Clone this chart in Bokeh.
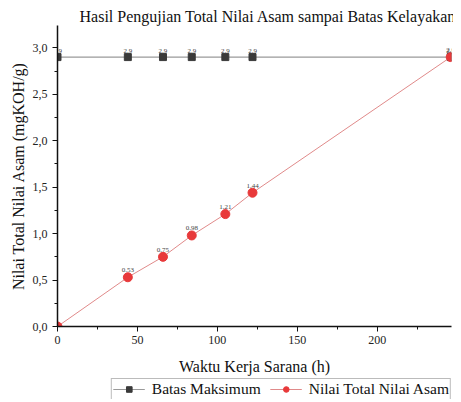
from bokeh.plotting import figure
from bokeh.layouts import column
from bokeh.models import (Range1d, Legend, LegendItem, CustomJSTickFormatter,
                          ColumnDataSource, SingleIntervalTicker)
from bokeh.embed import file_html
from bokeh.resources import INLINE
from bokeh.core.properties import value

# ---- data ----
hours_max = [0, 44, 66, 84, 105, 122, 246]
batas_max = [2.9, 2.9, 2.9, 2.9, 2.9, 2.9, 2.9]
labels_max = ["2.9", "2.9", "2.9", "2.9", "2.9", "2.9", "2.9"]

hours_tan = [0, 44, 66, 84, 105, 122, 246]
tan_values = [0.0, 0.53, 0.75, 0.98, 1.21, 1.44, 2.9]
labels_tan = ["", "0.53", "0.75", "0.98", "1.21", "1.44", "2.9"]

series_names = ["Batas Maksimum", "Nilai Total Nilai Asam"]
title_text = "Hasil Pengujian Total Nilai Asam sampai Batas Kelayakan"
x_label = "Waktu Kerja Sarana (h)"
y_label = "Nilai Total Nilai Asam (mgKOH/g)"

FONT = "Liberation Serif"
GRAY_LINE, GRAY_MARK = "#9a9a9a", "#3a3a3a"
RED_LINE, RED_MARK = "#e08a8a", "#e8393a"

src_max = ColumnDataSource(dict(x=hours_max, y=batas_max, t=labels_max))
src_tan = ColumnDataSource(dict(x=hours_tan, y=tan_values, t=labels_tan))

p = figure(width=453, height=378, output_backend="svg", toolbar_location=None,
           x_range=Range1d(0, 246.5), y_range=Range1d(0, 3.24),
           min_border_left=57, min_border_right=2, min_border_top=25, min_border_bottom=52)

p.title.text = title_text
p.title.align = "left"
p.title.offset = 22
p.title.text_font = FONT
p.title.text_font_size = "16px"
p.title.text_font_style = "normal"
p.title.text_color = "#111111"
p.title.standoff = 1

p.outline_line_color = None
p.grid.visible = False

# series
p.line("x", "y", source=src_max, line_color=GRAY_LINE, line_width=1.2)
p.scatter("x", "y", source=src_max, marker="square", size=7,
          fill_color=GRAY_MARK, line_color=GRAY_MARK)
p.line("x", "y", source=src_tan, line_color=RED_LINE, line_width=1.0)
p.scatter("x", "y", source=src_tan, marker="circle", size=9,
          fill_color=RED_MARK, line_color=RED_MARK)

p.text("x", "y", text="t", source=src_max, text_font=value(FONT), text_font_size="7px",
       text_align="center", text_baseline="bottom", y_offset=-4, text_color="#444444")
p.text("x", "y", text="t", source=src_tan, text_font=value(FONT), text_font_size="7px",
       text_align="center", text_baseline="bottom", y_offset=-5, text_color="#444444")

# axes
for ax in (p.xaxis[0], p.yaxis[0]):
    ax.axis_line_width = 1.5
    ax.axis_line_color = "#111111"
    ax.major_tick_line_color = "#111111"
    ax.minor_tick_line_color = "#111111"
    ax.major_tick_out = 5
    ax.major_tick_in = 0
    ax.minor_tick_out = 3
    ax.minor_tick_in = 0
    ax.major_label_text_font = FONT
    ax.major_label_text_font_size = "12px"
    ax.major_label_text_color = "#222222"
    ax.axis_label_text_font = FONT
    ax.axis_label_text_font_size = "16px"
    ax.axis_label_text_font_style = "normal"
    ax.axis_label_text_color = "#111111"

p.xaxis[0].ticker = SingleIntervalTicker(interval=50, num_minor_ticks=2)
p.yaxis[0].ticker = SingleIntervalTicker(interval=0.5, num_minor_ticks=2)
p.yaxis[0].formatter = CustomJSTickFormatter(code="return tick.toFixed(1).replace('.', ',');")
p.xaxis[0].axis_label = x_label
p.yaxis[0].axis_label = y_label
p.xaxis[0].major_label_standoff = 4
p.xaxis[0].axis_label_standoff = 11
p.yaxis[0].axis_label_standoff = 3

# legend strip below the chart (same data, ranges set so nothing is drawn in view)
p2 = figure(width=453, height=21, output_backend="svg", toolbar_location=None,
            x_axis_location=None, y_axis_location=None,
            x_range=Range1d(1000, 1001), y_range=Range1d(1000, 1001),
            min_border_left=0, min_border_right=2, min_border_top=0, min_border_bottom=0)
p2.outline_line_color = None
p2.grid.visible = False
k1 = p2.line("x", "y", source=src_max, line_color=GRAY_LINE, line_width=1.2)
m1 = p2.scatter("x", "y", source=src_max, marker="square", size=7,
                fill_color=GRAY_MARK, line_color=GRAY_MARK)
k2 = p2.line("x", "y", source=src_tan, line_color=RED_LINE, line_width=1.0)
m2 = p2.scatter("x", "y", source=src_tan, marker="circle", size=9,
                fill_color=RED_MARK, line_color=RED_MARK)

legend = Legend(items=[LegendItem(label=series_names[0], renderers=[k1, m1]),
                       LegendItem(label=series_names[1], renderers=[k2, m2])],
                orientation="horizontal", location="top_right")
legend.label_text_font = FONT
legend.label_text_font_size = "15.5px"
legend.label_text_color = "#111111"
legend.border_line_color = "#777777"
legend.border_line_width = 1
legend.glyph_width = 32
legend.glyph_height = 14
legend.spacing = 9
legend.padding = 1
legend.margin = 0
legend.label_standoff = 7
legend.label_height = 14
p2.add_layout(legend)

layout = column(p, p2, spacing=0)
open("out.html", "w").write(file_html(layout, INLINE))
